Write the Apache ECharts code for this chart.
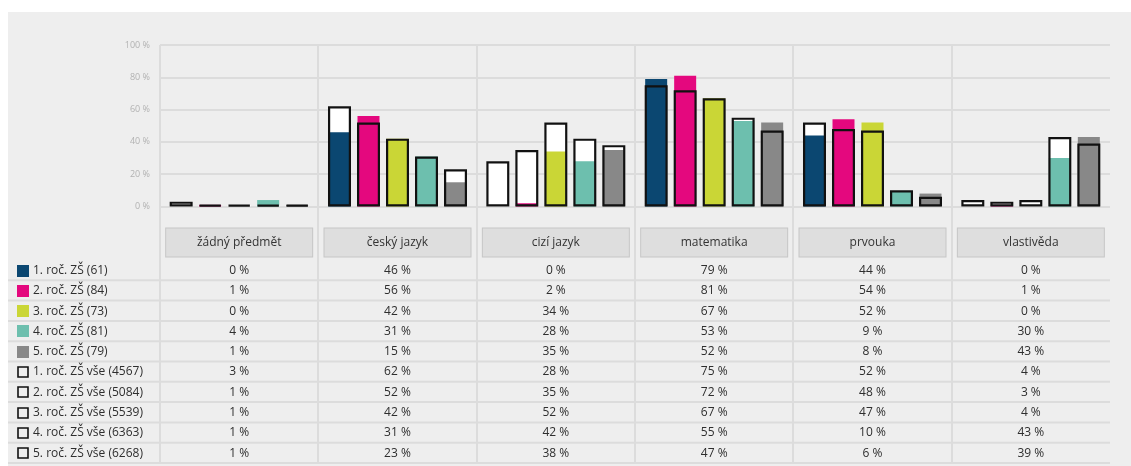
<!DOCTYPE html>
<html><head><meta charset="utf-8">
<script src="https://cdn.jsdelivr.net/npm/echarts@6/dist/echarts.min.js"></script>
<style>
html,body{margin:0;padding:0;background:#fff;}
#panel{position:absolute;left:8px;top:12px;width:1123px;height:454px;background:#eeeeee;}
#c{position:absolute;left:0;top:0;width:1131px;height:466px;}
</style>
</head><body><div id="panel"></div><div id="c"></div>
<script>
const categories = ['žádný předmět','český jazyk','cizí jazyk','matematika','prvouka','vlastivěda'];
const groupNames = ['1. roč. ZŠ (61)','2. roč. ZŠ (84)','3. roč. ZŠ (73)','4. roč. ZŠ (81)','5. roč. ZŠ (79)'];
const allNames = ['1. roč. ZŠ vše (4567)','2. roč. ZŠ vše (5084)','3. roč. ZŠ vše (5539)','4. roč. ZŠ vše (6363)','5. roč. ZŠ vše (6268)'];
const colors = ['#0b4771','#e4087e','#cad636','#6dbfae','#888888'];
const g1 = [0,46,0,79,44,0];
const g2 = [1,56,2,81,54,1];
const g3 = [0,42,34,67,52,0];
const g4 = [4,31,28,53,9,30];
const g5 = [1,15,35,52,8,43];
const a1 = [3,62,28,75,52,4];
const a2 = [1,52,35,72,48,3];
const a3 = [1,42,52,67,47,4];
const a4 = [1,31,42,55,10,43];
const a5 = [1,23,38,47,6,39];
const yMin = 0, yMax = 100, yStep = 20;

const groupVals = [g1,g2,g3,g4,g5];
const allVals = [a1,a2,a3,a4,a5];

const chart = echarts.init(document.getElementById('c'), null, {renderer:'canvas'});
const series = [];
for (let i = 0; i < 5; i++) {
  series.push({type:'bar', name: allNames[i] + ' bg', xAxisIndex:0, data: allVals[i], barWidth:23, barGap:'26.1%', barCategoryGap:'11%',
    itemStyle:{color:'#ffffff'}, z:2, silent:true});
}
for (let i = 0; i < 5; i++) {
  series.push({type:'bar', name: groupNames[i], xAxisIndex:1, data: groupVals[i], barWidth:22, barGap:'31.8%', barCategoryGap:'11%',
    itemStyle:{color:colors[i]}, z:3, silent:true});
}
for (let i = 0; i < 5; i++) {
  series.push({type:'bar', name: allNames[i], xAxisIndex:2, data: allVals[i], barWidth:23, barGap:'26.1%', barCategoryGap:'11%',
    itemStyle:{color:'rgba(0,0,0,0)', borderColor:'#111111', borderWidth:2.2}, z:4, silent:true});
}
const hiddenX = {type:'category', data: categories, show:false, gridIndex:0};
chart.setOption({
  animation:false,
  backgroundColor:'transparent',
  textStyle:{fontFamily:'Open Sans'},
  grid:{left:160, right:21, top:45, bottom:259.5, containLabel:false},
  xAxis:[
    {type:'category', data: categories, gridIndex:0,
     axisLine:{show:false}, axisTick:{show:false}, splitLine:{show:false},
     axisLabel:{interval:0, margin:22, width:146, height:28, lineHeight:28, align:'center', verticalAlign:'top',
       backgroundColor:'#dedede', borderColor:'#c6c6c6', borderWidth:1, color:'#333333', fontSize:12, fontFamily:'Open Sans'}},
    Object.assign({}, hiddenX),
    Object.assign({}, hiddenX)
  ],
  yAxis:{type:'value', min:yMin, max:yMax, interval:yStep,
    axisLine:{show:false}, axisTick:{show:false},
    axisLabel:{formatter:'{value} %', color:'#b2b2b2', fontSize:9, margin:10, fontFamily:'Open Sans'},
    splitLine:{lineStyle:{color:'#dcdcdc', width:2}}},
  series: series
});

// table + separators
const cx = categories.map((c,i)=>chart.convertToPixel({xAxisIndex:0}, i));
const band = cx[1]-cx[0];
const yTop = chart.convertToPixel({yAxisIndex:0}, yMax);
const rowTop = 260, rowH = 20.3;
const graphics = [];
for (let i = 0; i < categories.length; i++) {
  const bx = Math.round(cx[i] - band/2);
  graphics.push({type:'line', shape:{x1:bx, y1:yTop, x2:bx, y2:rowTop + rowH*10}, style:{stroke:'#dcdcdc', lineWidth:2}, z:0});
}
const rowNames = groupNames.concat(allNames);
const rowVals = groupVals.concat(allVals);
const tableRight = cx[cx.length-1] + band/2;
for (let r = 0; r < 10; r++) {
  const yc = rowTop + rowH*r + 10.5;
  const yl = rowTop + rowH*(r+1);
  graphics.push({type:'line', shape:{x1:8, y1:yl, x2:tableRight, y2:yl}, style:{stroke:'#dcdcdc', lineWidth:2}, z:0});
  if (r < 5) {
    graphics.push({type:'rect', shape:{x:17, y:Math.round(yc-6), width:12, height:12}, style:{fill:colors[r]}, z:5});
  } else {
    graphics.push({type:'rect', shape:{x:18, y:Math.round(yc-5), width:10, height:10}, style:{fill:'rgba(0,0,0,0)', stroke:'#111111', lineWidth:1.6}, z:5});
  }
  graphics.push({type:'text', x:33, y:yc, style:{text:rowNames[r], fill:'#2e2e2e', fontSize:12, fontFamily:'Open Sans', textVerticalAlign:'middle', textAlign:'left'}, z:5});
  for (let c = 0; c < categories.length; c++) {
    graphics.push({type:'text', x:cx[c], y:yc, style:{text:rowVals[r][c] + ' %', fill:'#2e2e2e', fontSize:12, fontFamily:'Open Sans', textVerticalAlign:'middle', textAlign:'center'}, z:5});
  }
}
chart.setOption({graphic:{elements:graphics}});
</script>
</body></html>
